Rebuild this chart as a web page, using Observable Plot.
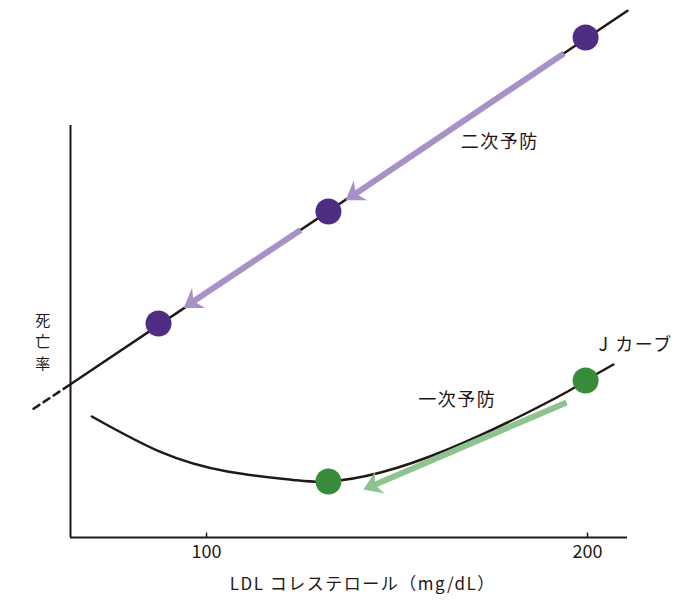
<!DOCTYPE html>
<html><head><meta charset="utf-8">
<script src="https://cdn.jsdelivr.net/npm/d3@7"></script>
<script src="https://cdn.jsdelivr.net/npm/@observablehq/plot@0.6"></script>
<style>body{margin:0;background:#fff}</style>
</head><body><div id="chart"></div>
<script>
// ---- data ----
const xTicks = [100, 200];
const xLabel = "LDL コレステロール（mg/dL）";
const yLabel = "死亡率";
const labelSecondary = "二次予防";
const labelPrimary = "一次予防";
const labelJ = "J カーブ";

// secondary prevention: straight line (solid part and dashed extension)
const secLineX = [64.3, 210.5];
const secLineY = [38.3, 131.7];
const secDashX = [54.6, 64.3];
const secDashY = [32.2, 38.3];
const secPointX = [199.5, 132, 87.4];
const secPointY = [125, 81.5, 53.5];
const secArrowFromX = [193.8, 124.7];
const secArrowFromY = [121, 76.9];
const secArrowToX = [136.5, 94.0];
const secArrowToY = [84.3, 57.4];

// primary prevention: J curve
const jCurveX = [69.9, 87.9, 105.5, 122.8, 132, 145.7, 163.3, 180.6, 194.8, 199.5, 206.8];
const jCurveY = [30.25, 21.4, 16.5, 14.4, 14.0, 16.25, 22.0, 29.5, 36.5, 39.25, 43.25];
const priPointX = [132, 199.5];
const priPointY = [14.0, 39.25];
const priArrowFromX = [194.5];
const priArrowFromY = [33.75];
const priArrowToX = [141.2];
const priArrowToY = [12.0];

// ---- layout ----
const W = 700, H = 600, mL = 70, mR = 73, mT = 1, mB = 63;
const xDomain = [64.3, 210.5], yDomain = [0, 134];
const xS = d3.scaleLinear(xDomain, [mL, W - mR]);
const yS = d3.scaleLinear(yDomain, [H - mB, mT]);

const INK = "#231815";
const PURPLE = "#4f2d83", PURPLE_LIGHT = "#a891c6";
const GREEN = "#378b3b", GREEN_LIGHT = "#8dc38f";

function arrows(fx, fy, tx, ty, back) {
  return fx.map((_, i) => {
    const px1 = xS(fx[i]), py1 = yS(fy[i]), px2 = xS(tx[i]), py2 = yS(ty[i]);
    const a = Math.atan2(py2 - py1, px2 - px1);
    return {
      x1: fx[i], y1: fy[i],
      x2: xS.invert(px2 - back * Math.cos(a)), y2: yS.invert(py2 - back * Math.sin(a)),
      tx: tx[i], ty: ty[i], angle: a
    };
  });
}
function headSymbol(angle) {
  const shape = [[0, 0], [-18, -12], [-12, 0], [-18, 12]];
  return {
    draw(ctx) {
      const c = Math.cos(angle), s = Math.sin(angle);
      shape.forEach(([u, v], i) => {
        const X = u * c - v * s, Y = u * s + v * c;
        if (i === 0) ctx.moveTo(X, Y); else ctx.lineTo(X, Y);
      });
      ctx.closePath();
    }
  };
}

const secArrows = arrows(secArrowFromX, secArrowFromY, secArrowToX, secArrowToY, 11);
const priArrows = arrows(priArrowFromX, priArrowFromY, priArrowToX, priArrowToY, 11);
const zip = (xs, ys) => xs.map((x, i) => ({x, y: ys[i]}));

const headMarks = [...secArrows.map(a => [a, PURPLE_LIGHT]), ...priArrows.map(a => [a, GREEN_LIGHT])]
  .map(([a, col]) => Plot.dot([a], {x: "tx", y: "ty", symbol: headSymbol(a.angle), r: 5, fill: col, stroke: "none"}));

const chart = Plot.plot({
  width: W, height: H,
  marginLeft: mL, marginRight: mR, marginTop: mT, marginBottom: mB,
  x: {domain: xDomain, axis: null},
  y: {domain: yDomain, axis: null},
  style: {fontFamily: "'Noto Sans CJK JP', 'Noto Sans', sans-serif", color: INK, background: "#fff", overflow: "visible"},
  marks: [
    Plot.ruleY([0], {stroke: INK, strokeWidth: 2}),
    Plot.ruleX([xDomain[0]], {y1: 0, y2: 103, stroke: INK, strokeWidth: 2}),
    Plot.ruleX(xTicks, {y1: 0, y2: 1.1, stroke: INK, strokeWidth: 1.5}),
    Plot.text(xTicks, {x: d => d, y: 0, dy: 15, text: d => String(d), fontSize: 18, fill: INK}),
    Plot.text([xLabel], {x: 141, y: 0, dy: 47, fontSize: 17, fill: INK, ariaLabel: "x-label"}),
    Plot.text([yLabel.split("").join("\n")], {x: 57.2, y: 49.25, fontSize: 15, lineHeight: 1.45, fill: INK, ariaLabel: "y-label"}),
    Plot.line(zip(secDashX, secDashY), {x: "x", y: "y", stroke: INK, strokeWidth: 2.5, strokeDasharray: "7,5"}),
    Plot.line(zip(secLineX, secLineY), {x: "x", y: "y", stroke: INK, strokeWidth: 2.5}),
    Plot.line(zip(jCurveX, jCurveY), {x: "x", y: "y", stroke: INK, strokeWidth: 2.5, curve: "natural"}),
    Plot.link(secArrows, {x1: "x1", y1: "y1", x2: "x2", y2: "y2", stroke: PURPLE_LIGHT, strokeWidth: 6, strokeLinecap: "butt"}),
    Plot.link(priArrows, {x1: "x1", y1: "y1", x2: "x2", y2: "y2", stroke: GREEN_LIGHT, strokeWidth: 6, strokeLinecap: "butt"}),
    ...headMarks,
    Plot.dot(zip(secPointX, secPointY), {x: "x", y: "y", r: 13, fill: PURPLE, stroke: "none"}),
    Plot.dot(zip(priPointX, priPointY), {x: "x", y: "y", r: 13, fill: GREEN, stroke: "none"}),
    Plot.text([labelSecondary], {x: 166.7, y: 98.9, textAnchor: "start", fontSize: 18, fill: INK}),
    Plot.text([labelPrimary], {x: 155.6, y: 34.4, textAnchor: "start", fontSize: 18, fill: INK}),
    Plot.text([labelJ], {x: 202.9, y: 48.1, textAnchor: "start", fontSize: 18, fill: INK})
  ]
});
chart.querySelectorAll("text").forEach(t => {
  if (/[\u3000-\u9fff\uff00-\uffef]/.test(t.textContent)) t.setAttribute("letter-spacing", "1.5");
});
chart.querySelectorAll('g[aria-label="x-label"] text').forEach(t => t.setAttribute("letter-spacing", "1.3"));
chart.querySelectorAll('g[aria-label="y-label"] text').forEach(t => t.setAttribute("letter-spacing", "0"));
document.getElementById("chart").appendChild(chart);
</script>
</body></html>
